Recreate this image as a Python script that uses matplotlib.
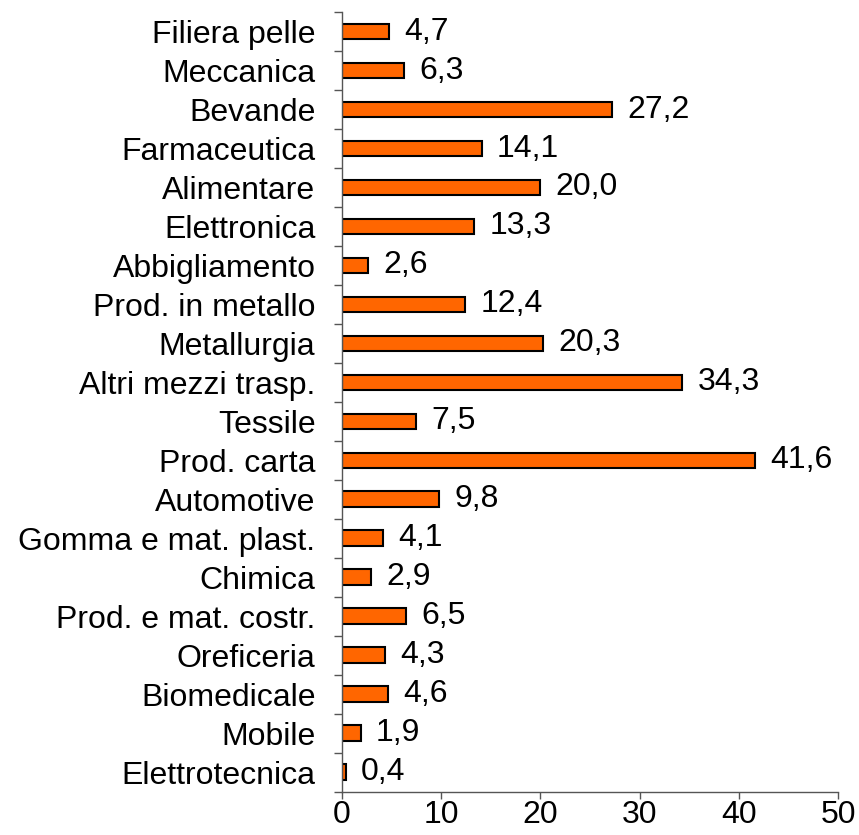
import numpy as np
import matplotlib.pyplot as plt
from matplotlib.ticker import FixedLocator

plt.rcParams['font.family'] = ['Liberation Sans', 'DejaVu Sans']

sectors = ['Filiera pelle', 'Meccanica', 'Bevande', 'Farmaceutica', 'Alimentare',
           'Elettronica', 'Abbigliamento', 'Prod. in metallo', 'Metallurgia',
           'Altri mezzi trasp.', 'Tessile', 'Prod. carta', 'Automotive',
           'Gomma e mat. plast.', 'Chimica', 'Prod. e mat. costr.', 'Oreficeria',
           'Biomedicale', 'Mobile', 'Elettrotecnica']
values = [4.7, 6.3, 27.2, 14.1, 20.0, 13.3, 2.6, 12.4, 20.3, 34.3,
          7.5, 41.6, 9.8, 4.1, 2.9, 6.5, 4.3, 4.6, 1.9, 0.4]
xticks = [0, 10, 20, 30, 40, 50]

fs = 23

fig = plt.figure(figsize=(8.59, 8.35), dpi=100)
ax = fig.add_axes([0.398, 0.052, 0.5776, 0.9335])

n = len(sectors)
y = np.arange(n)[::-1]
ax.barh(y, values, height=0.4, color='#FF6600', edgecolor='black', linewidth=1.5)

for yi, v in zip(y, values):
    ax.annotate(f'{v:.1f}'.replace('.', ','), (v, yi), xytext=(11, 0),
                textcoords='offset points', va='center', ha='left', fontsize=fs)

ax.set_xlim(0, 50)
ax.set_ylim(-0.5, n - 0.5)
ax.set_xticks(xticks)
ax.set_xticklabels([str(t) for t in xticks], fontsize=fs)
ax.set_yticks(y)
ax.set_yticklabels(sectors, fontsize=fs)
ax.yaxis.set_minor_locator(FixedLocator(np.arange(n + 1) - 0.5))

ax.tick_params(axis='y', which='major', length=0, pad=19)
ax.tick_params(axis='y', which='minor', length=6, width=1, color='#555555')
ax.tick_params(axis='x', length=5, width=1, color='#555555', pad=1)

for s in ['top', 'right']:
    ax.spines[s].set_visible(False)
for s in ['left', 'bottom']:
    ax.spines[s].set_color('#555555')
    ax.spines[s].set_linewidth(1)

fig.savefig('out.png', dpi=100)
